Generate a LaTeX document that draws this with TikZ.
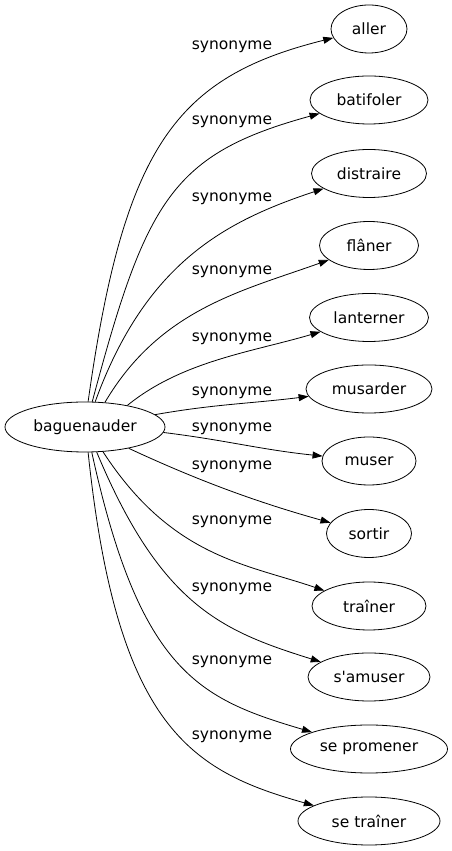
\documentclass[tikz,border=0pt]{standalone}
\usepackage{fontspec}
\setmainfont{DejaVu Sans}
\usetikzlibrary{arrows.meta,shapes.geometric}

\begin{document}
\begin{tikzpicture}[x=1pt,y=1pt,
  every node/.style={font=\fontsize{15.5}{18}\selectfont},
  word/.style={draw,ellipse,line width=0.8pt,inner sep=0pt,minimum height=48pt},
  arr/.style={-{Triangle[length=10pt,width=7pt]},line width=0.8pt}]
  \useasboundingbox (0,0) rectangle (452,851);
  \node[word,minimum width=160pt,minimum height=50pt] (bag) at (85,424) {baguenauder};
  \foreach \n/\t/\y/\w in {aller/aller/822/76, batifoler/batifoler/751/118,
      distraire/distraire/677.5/115, flaner/flâner/605.5/99,
      lanterner/lanterner/533.5/119, musarder/musarder/462/126,
      muser/muser/390/94, sortir/sortir/317.5/85, trainer/traîner/245/114,
      samuser/{s\textquotesingle amuser}/174/122,
      sepromener/se promener/102/157, setrainer/se traîner/30/142}
    \node[word,minimum width=\w pt] (\n) at (369,\y) {\t};
  % labels
  \foreach \i/\y in {1/804,2/729,3/652,4/579,5/512,6/458,7/422,8/384,9/329,10/262,11/189,12/114}
    \node (syn\i) at (232,\y) {synonyme};
  % edges
  \draw[arr] (bag.83) .. controls (124,705) and (176,774) .. (aller);
  \draw[arr] (bag.74) .. controls (146,651) and (172,697) .. (batifoler);
  \draw[arr] (bag.68) .. controls (146,589) and (226,630) .. (distraire);
  \draw[arr] (bag.51) .. controls (160,542) and (242,560) .. (flaner);
  \draw[arr] (bag.27) .. controls (182,490) and (252,499) .. (lanterner);
  \draw[arr] (bag.10) to[out=10,in=187] (musarder);
  \draw[arr] (bag.-4) to[out=-7,in=174] (muser);
  \draw[arr] (bag.-26) .. controls (201,369) and (260,348) .. (sortir);
  \draw[arr] (bag.-54) .. controls (172,293) and (247,287) .. (trainer);
  \draw[arr] (bag.-65) .. controls (161,245) and (222,220) .. (samuser);
  \draw[arr] (bag.-75) .. controls (140,178) and (200,152) .. (sepromener);
  \draw[arr] (bag.-83) .. controls (117,123) and (191,80) .. (setrainer);
\end{tikzpicture}
\end{document}
